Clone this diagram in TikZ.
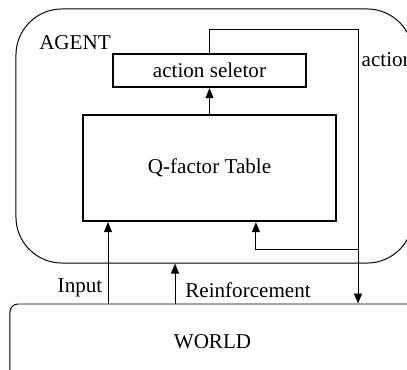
\documentclass[tikz,border=0pt]{standalone}
\usepackage{fontspec}
\setmainfont{Liberation Serif}
\usepackage{tikz}
\usetikzlibrary{arrows.meta, positioning, calc}

\begin{document}
\begin{tikzpicture}[
    x=0.025cm, y=-0.025cm,
    font=\fontsize{15}{18}\selectfont,
    kotak/.style={draw, line width=1.6pt, inner sep=0pt},
    bulat/.style={draw, line width=0.7pt, inner sep=0pt},
    panah/.style={-{Triangle[length=0.25cm, width=0.2cm]}, line width=0.7pt}
  ]
    \useasboundingbox (0,0) rectangle (407,369);
    \clip (0,0) rectangle (407,369);

    \node[bulat, rounded corners=1.15cm, minimum width=9.925cm, minimum height=6.35cm] (agent) at (214.5,136) {};
    \node[bulat, rounded corners=0.2cm, minimum width=10.125cm, minimum height=1.9cm] (world) at (212.5,342) {WORLD};
    \node[kotak, minimum width=4.825cm, minimum height=0.825cm] (selektor) at (209.5,70.5) {action seletor};
    \node[kotak, minimum width=6.325cm, minimum height=2.65cm] (tabel) at (209.5,168) {Q-factor Table};
    \node (agenlabel) at (75,43) {AGENT};

    \coordinate (aksiatas) at (358,29);
    \coordinate (cabang) at (358,249);
    \coordinate (masuk) at (108,304);
    \coordinate (hadiah) at (175,304);

    \draw[panah] (tabel) -- (selektor);
    \draw[panah] (selektor.north) |- (aksiatas) -- (aksiatas |- world.north);
    \draw[panah] (cabang) -| ([xshift=1.16cm]tabel.south);
    \draw[panah] (masuk) -- (masuk |- tabel.south);
    \draw[panah] (hadiah) -- (hadiah |- agent.south);

    \node[anchor=west, inner sep=1pt] (aksilabel) at (360,60) {action};
    \node (masuklabel) at (80,288) {Input};
    \node (hadiahlabel) at (248,290) {Reinforcement};
  \end{tikzpicture}
\end{document}
